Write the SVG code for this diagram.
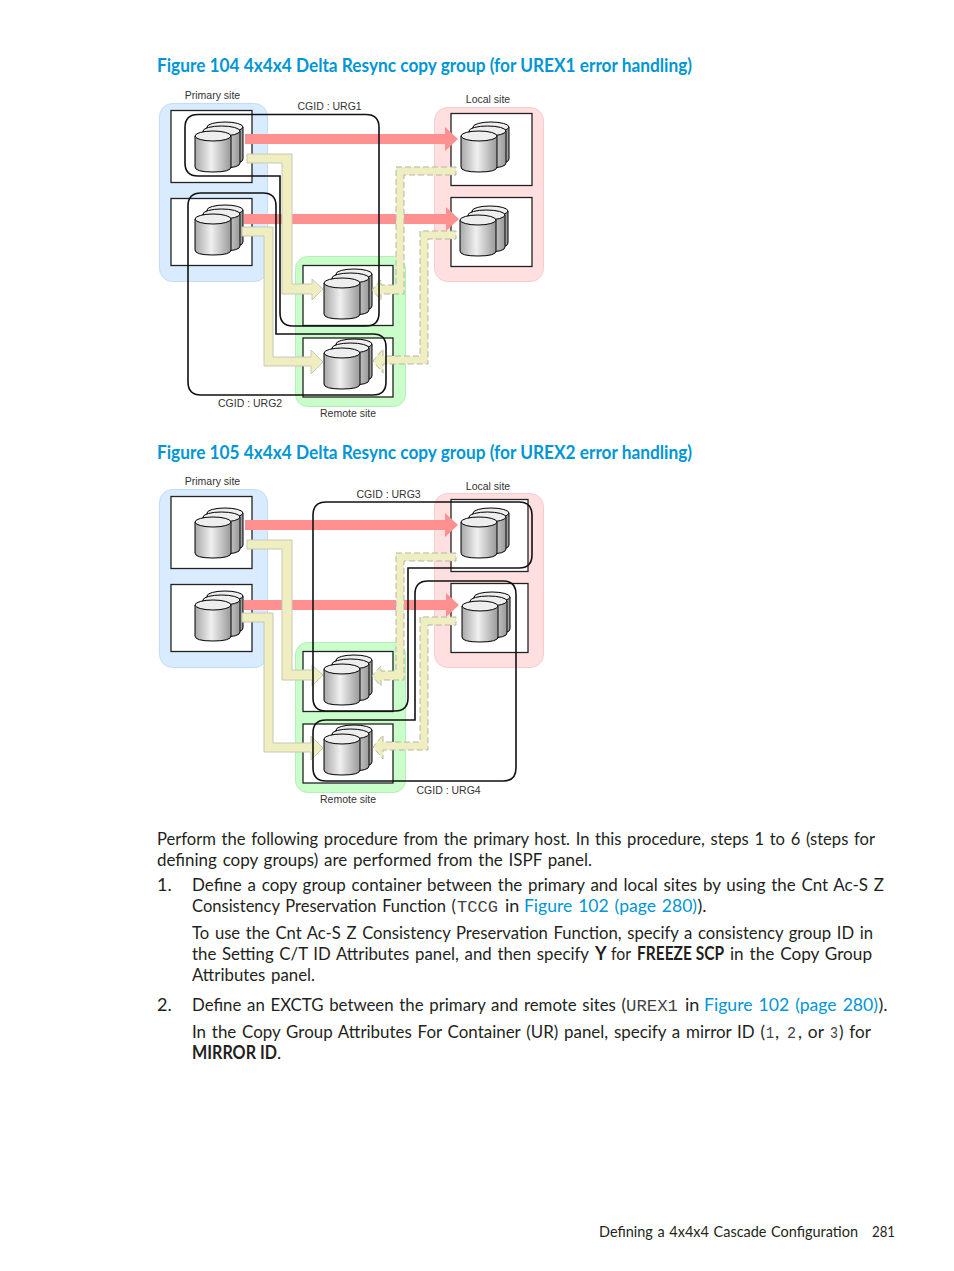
<svg xmlns="http://www.w3.org/2000/svg" xmlns:xlink="http://www.w3.org/1999/xlink" width="954" height="1271" viewBox="0 0 954 1271">
<style>
text{font-family:Lato,"Noto Sans","Liberation Sans",sans-serif;fill:#231f20}
.t{font-size:19px;font-weight:700;fill:#0096d6}
.b{font-size:18px;word-spacing:1.5px}
.bb{font-size:18px;font-weight:700;word-spacing:0}
.m{font-family:"Liberation Mono",monospace;font-size:16.500px;fill:#444;word-spacing:0}
.l{fill:#0096d6}
.f{font-size:15px;word-spacing:1px}
.s{font-family:"Liberation Sans",Arial,sans-serif;font-size:10.500px;fill:#333}
.blue{fill:#d9ebff;stroke:#c2dcf8}
.pink{fill:#ffdfdf;stroke:#fbcaca}
.green{fill:#c9fdc9;stroke:#b6efb6}
.box{fill:#fff;stroke:#222;stroke-width:1.3}
.rs{fill:none;stroke:#111;stroke-width:1.600}
.red{fill:#ff9090}
.y{fill:#eeeec0;stroke:#c8c8b8;stroke-width:1}
.yd{fill:#eeeec0;stroke:#b5b5a8;stroke-width:1;stroke-dasharray:6 3}
.cy{fill:url(#g);stroke:#000;stroke-width:1}
.tp{fill:#eee;stroke:#000;stroke-width:1}
</style>
<defs>
<linearGradient id="g" x1="0" x2="1" y1="0" y2="0"><stop offset="0" stop-color="#a8a8a8"/><stop offset=".45" stop-color="#f0f0f0"/><stop offset="1" stop-color="#999"/></linearGradient>
<g id="disk">
<path class="cy" d="M12-4V28Q12 33 30 33Q48 33 48 28V-4Z"/><ellipse class="tp" cx="30" cy="-4" rx="18" ry="5"/>
<path class="cy" d="M8 0V32Q8 37 26 37Q45 37 45 32V0Z"/><ellipse class="tp" cx="26.500" cy="0" rx="18.500" ry="5"/>
<path class="cy" d="M0 5V36Q0 41 18 41Q36 41 36 36V5Z"/><ellipse class="tp" cx="18" cy="5" rx="18" ry="5"/>
</g>
<path id="ar1" class="red" d="M245 134H445V127L458 139L445 151V144H245Z"/>
<path id="ar2" class="red" d="M244 214H446V207L459 219L446 231V224H244Z"/>
<path id="ay1" class="y" d="M247 154H292V284H312V279L323 289L312 300V294H282V163H247Z"/>
<path id="ay2" class="y" d="M242 227H273V357H311V350L323 362L311 374V366H264V236H242Z"/>
<path id="ay3" class="yd" d="M456 167H396V285H381V280L372 290L381 300V294H404V175H456Z"/>
<path id="ay4" class="yd" d="M456 231H420V356H383V349L373 361L383 373V364H428V239H456Z"/>
</defs>

<text class="t" x="157" y="72" textLength="535" lengthAdjust="spacingAndGlyphs">Figure 104 4x4x4 Delta Resync copy group (for UREX1 error handling)</text>

<g id="fig104-primary">
<rect class="blue" x="159.500" y="103.500" width="108" height="178" rx="13"/>
<rect class="box" x="171" y="110.500" width="81" height="72"/>
<rect class="box" x="171" y="198.500" width="81" height="67"/>
<use href="#disk" x="195" y="131"/><use href="#disk" x="195" y="214"/>
<text class="s" x="212.500" y="99" text-anchor="middle">Primary site</text>
</g>
<g id="fig104-local">
<rect class="pink" x="434.500" y="107.500" width="109" height="174" rx="13"/>
<rect class="box" x="451" y="113.500" width="81" height="72"/>
<rect class="box" x="451" y="197.500" width="81" height="69"/>
<use href="#disk" x="461" y="131"/><use href="#disk" x="460" y="215"/>
<text class="s" x="488" y="103" text-anchor="middle">Local site</text>
</g>
<g id="fig104-remote">
<rect class="green" x="295.500" y="256.500" width="110" height="150" rx="12"/>
<rect class="box" x="303" y="265.500" width="90" height="60"/>
<rect class="box" x="303" y="338" width="90" height="59"/>
<use href="#disk" x="324" y="278"/><use href="#disk" x="324" y="348"/>
<text class="s" x="348" y="416.500" text-anchor="middle">Remote site</text>
</g>
<g id="fig104-connectors">
<use href="#ar1"/><use href="#ar2"/><use href="#ay1"/><use href="#ay2"/><use href="#ay3"/><use href="#ay4"/>
<path class="rs" d="M198 114.500H366Q379 114.500 379 127.500V313Q379 326 366 326H293Q280 326 280 313V176H198Q185 176 185 163V127.500Q185 114.500 198 114.500Z"/>
<path class="rs" d="M201 193H263Q276 193 276 206V334H373Q386 334 386 347V382Q386 395 373 395H201Q188 395 188 382V206Q188 193 201 193Z"/>
<text class="s" x="297.500" y="110">CGID : URG1</text>
<text class="s" x="218" y="407">CGID : URG2</text>
</g>

<text class="t" x="157" y="459" textLength="535" lengthAdjust="spacingAndGlyphs">Figure 105 4x4x4 Delta Resync copy group (for UREX2 error handling)</text>

<g id="fig105-primary">
<rect class="blue" x="159.500" y="489.500" width="108" height="178" rx="13"/>
<rect class="box" x="171" y="496.500" width="81" height="72"/>
<rect class="box" x="171" y="584.500" width="81" height="67"/>
<use href="#disk" x="195" y="517"/><use href="#disk" x="195" y="600"/>
<text class="s" x="212.500" y="485" text-anchor="middle">Primary site</text>
</g>
<g id="fig105-local">
<rect class="pink" x="434.500" y="493.500" width="109" height="174" rx="13"/>
<rect class="box" x="451" y="499.500" width="77" height="72"/>
<rect class="box" x="451" y="583.500" width="77" height="69"/>
<use href="#disk" x="461" y="517"/><use href="#disk" x="462" y="601"/>
<text class="s" x="488" y="489.500" text-anchor="middle">Local site</text>
</g>
<g id="fig105-remote">
<rect class="green" x="295.500" y="642.500" width="110" height="150" rx="12"/>
<rect class="box" x="303" y="651.500" width="90" height="60"/>
<rect class="box" x="303" y="724" width="90" height="59"/>
<use href="#disk" x="324" y="664"/><use href="#disk" x="324" y="734"/>
<text class="s" x="348" y="802.500" text-anchor="middle">Remote site</text>
</g>
<g id="fig105-connectors" >
<g transform="translate(0 386)"><use href="#ar1"/><use href="#ar2"/><use href="#ay1"/><use href="#ay2"/><use href="#ay3"/><use href="#ay4"/></g>
<path class="rs" d="M326 502H519Q532 502 532 515V555Q532 568 519 568H408V698Q408 711 395 711H326Q313 711 313 698V515Q313 502 326 502Z"/>
<path class="rs" d="M428 581H503Q516 581 516 594V768Q516 781 503 781H326Q313 781 313 768V733Q313 720 326 720H415V594Q415 581 428 581Z"/>
<text class="s" x="356.500" y="498">CGID : URG3</text>
<text class="s" x="416.500" y="794">CGID : URG4</text>
</g>

<g id="body">
<text class="b" x="157" y="845" textLength="718" lengthAdjust="spacingAndGlyphs">Perform the following procedure from the primary host. In this procedure, steps 1 to 6 (steps for</text>
<text class="b" x="157" y="866" textLength="435" lengthAdjust="spacingAndGlyphs">defining copy groups) are performed from the ISPF panel.</text>
<text class="b" x="157" y="891">1.</text>
<text class="b" x="192" y="891" textLength="692" lengthAdjust="spacingAndGlyphs">Define a copy group container between the primary and local sites by using the Cnt Ac-S Z</text>
<text class="b" y="912"><tspan x="192" textLength="264" lengthAdjust="spacingAndGlyphs">Consistency Preservation Function (</tspan><tspan class="m" x="457" textLength="41" lengthAdjust="spacingAndGlyphs">TCCG</tspan><tspan x="505">in</tspan><tspan class="l" x="524" textLength="173" lengthAdjust="spacingAndGlyphs">Figure 102 (page 280)</tspan><tspan x="697.500">).</tspan></text>
<text class="b" x="192" y="939" textLength="681" lengthAdjust="spacingAndGlyphs">To use the Cnt Ac-S Z Consistency Preservation Function, specify a consistency group ID in</text>
<text class="b" y="960"><tspan x="192" textLength="397" lengthAdjust="spacingAndGlyphs">the Setting C/T ID Attributes panel, and then specify</tspan><tspan class="bb" x="595">Y</tspan><tspan x="611" textLength="20" lengthAdjust="spacingAndGlyphs">for</tspan><tspan class="bb" x="637" textLength="87" lengthAdjust="spacingAndGlyphs">FREEZE SCP</tspan><tspan x="730" textLength="142" lengthAdjust="spacingAndGlyphs">in the Copy Group</tspan></text>
<text class="b" x="192" y="981" textLength="123" lengthAdjust="spacingAndGlyphs">Attributes panel.</text>
<text class="b" x="157" y="1011">2.</text>
<text class="b" y="1011"><tspan x="192" textLength="434" lengthAdjust="spacingAndGlyphs">Define an EXCTG between the primary and remote sites (</tspan><tspan class="m" x="626" textLength="52" lengthAdjust="spacingAndGlyphs">UREX1</tspan><tspan x="685">in</tspan><tspan class="l" x="704" textLength="174" lengthAdjust="spacingAndGlyphs">Figure 102 (page 280)</tspan><tspan x="878.500">).</tspan></text>
<text class="b" y="1038"><tspan x="192" textLength="573" lengthAdjust="spacingAndGlyphs">In the Copy Group Attributes For Container (UR) panel, specify a mirror ID (</tspan><tspan class="m" x="766" textLength="8" lengthAdjust="spacingAndGlyphs">1</tspan><tspan x="775">,</tspan><tspan class="m" x="787" textLength="9" lengthAdjust="spacingAndGlyphs">2</tspan><tspan x="798" textLength="26" lengthAdjust="spacingAndGlyphs">, or</tspan><tspan class="m" x="830" textLength="8" lengthAdjust="spacingAndGlyphs">3</tspan><tspan x="839" textLength="32" lengthAdjust="spacingAndGlyphs">) for</tspan></text>
<text class="b" y="1059"><tspan class="bb" x="192" textLength="85" lengthAdjust="spacingAndGlyphs">MIRROR ID</tspan><tspan x="277">.</tspan></text>
</g>
<g id="footer">
<text class="f" x="599" y="1237" textLength="259" lengthAdjust="spacingAndGlyphs">Defining a 4x4x4 Cascade Configuration</text>
<text class="f" x="872" y="1237" textLength="23" lengthAdjust="spacingAndGlyphs">281</text>
</g>
</svg>
